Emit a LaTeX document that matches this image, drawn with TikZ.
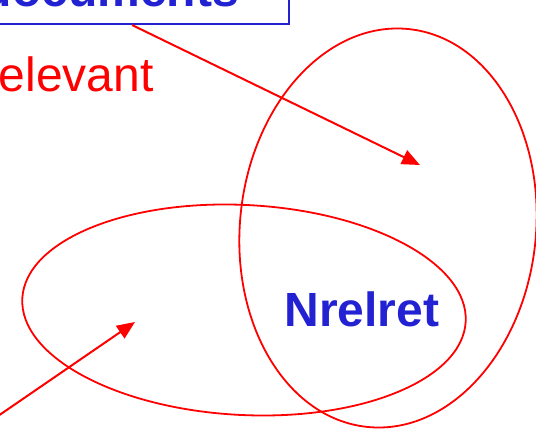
\documentclass[tikz,border=0pt]{standalone}
\usepackage{fontspec}
\setmainfont{Liberation Sans}
\usetikzlibrary{arrows.meta}
\definecolor{setred}{RGB}{255,0,0}
\definecolor{labelblue}{RGB}{34,34,210}

\begin{document}
\begin{tikzpicture}[x=1pt,y=-1pt,
    setline/.style={setred,line width=1.8pt},
    pointer/.style={setred,line width=2pt,-{Triangle[length=18pt,width=15pt]}},
    labelbox/.style={draw=labelblue,line width=2pt,text=labelblue,
      font=\fontsize{48}{58}\selectfont\bfseries,
      text depth=0pt,inner xsep=50pt,inner ysep=17pt},
    bigtext/.style={font=\fontsize{48}{58}\selectfont,inner sep=0pt}]

  \useasboundingbox (0,0) rectangle (536,430);

  % --- the two sets: relevant (left) and retrieved (right) ---
  \draw[setline,rotate around={-6:(388,228)}]
    (388,228) ellipse [x radius=148,y radius=200];
  \draw[setline,rotate around={-3:(244,310)}]
    (244,310) ellipse [x radius=222,y radius=105];

  % --- the box at the top, cut off by the page ---
  \node[labelbox,anchor=south east] (retbox) at (290,25) {Retrieved documents};

  % --- lettering ---
  \node[bigtext,text=setred,anchor=base west] (reltext) at (-36,92) {Relevant};
  \node[bigtext,text=labelblue,font=\fontsize{48}{58}\selectfont\bfseries,
        anchor=base] (nrelret) at (362,327) {Nrelret};

  % --- the pointers ---
  \coordinate (retfoot) at (132,25);
  \coordinate (rettip)  at (420,165);
  \coordinate (relfoot) at (-2,416);
  \coordinate (reltip)  at (135,322);
  \draw[pointer] (retfoot) -- (rettip);
  \draw[pointer] (relfoot) -- (reltip);
\end{tikzpicture}
\end{document}
